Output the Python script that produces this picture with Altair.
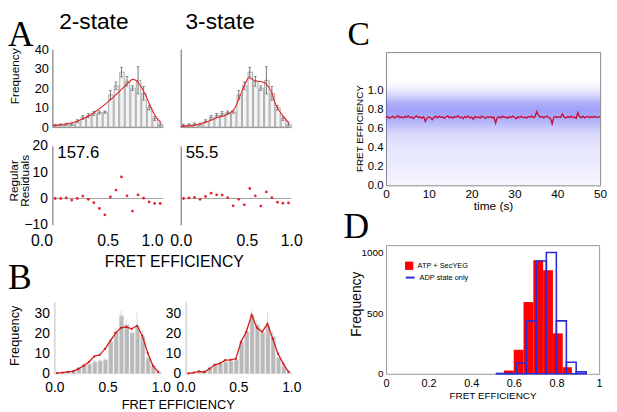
import altair as alt
import pandas as pd

W, H = 609, 404

# ---------------- data ----------------
# FRET efficiency histogram, 20 bins of width 0.05
bin_lo = [0.00, 0.05, 0.10, 0.15, 0.20, 0.25, 0.30, 0.35, 0.40, 0.45,
          0.50, 0.55, 0.60, 0.65, 0.70, 0.75, 0.80, 0.85, 0.90, 0.95]
bin_hi = [0.05, 0.10, 0.15, 0.20, 0.25, 0.30, 0.35, 0.40, 0.45, 0.50,
          0.55, 0.60, 0.65, 0.70, 0.75, 0.80, 0.85, 0.90, 0.95, 1.00]
bin_mid = [0.025, 0.075, 0.125, 0.175, 0.225, 0.275, 0.325, 0.375, 0.425, 0.475,
           0.525, 0.575, 0.625, 0.675, 0.725, 0.775, 0.825, 0.875, 0.925, 0.975]

a_counts = [1.0, 1.2, 1.5, 1.5, 3.0, 5.0, 6.0, 7.0, 7.5, 7.7,
            16.5, 21.2, 28.2, 23.5, 20.0, 24.0, 17.3, 10.0, 4.4, 1.4]
a_err = [0.5, 0.5, 0.6, 0.6, 0.8, 1.0, 1.0, 1.0, 0.8, 0.6,
         2.3, 2.0, 2.5, 2.5, 1.2, 7.0, 3.5, 1.2, 1.0, 0.8]

b_counts = [0.3, 0.5, 1.0, 1.5, 3.0, 4.6, 5.0, 6.0, 6.5, 7.0,
            16.0, 21.0, 29.0, 24.5, 20.5, 24.0, 18.5, 8.0, 4.0, 1.0]
b_err = [0.3, 0.3, 0.4, 0.5, 0.7, 0.8, 0.8, 0.8, 0.8, 0.8,
         2.0, 2.0, 2.5, 2.5, 1.5, 6.5, 3.0, 1.5, 1.0, 0.6]

# A: fitted curves
fit2_x = [0.0, 0.05, 0.1, 0.15, 0.2, 0.25, 0.3, 0.35, 0.4, 0.45, 0.5, 0.55,
          0.6, 0.65, 0.7, 0.725, 0.75, 0.8, 0.85, 0.9, 0.95, 0.98]
fit2_y = [0.8, 1.0, 1.3, 1.8, 2.6, 3.6, 4.9, 6.5, 8.4, 10.5, 12.8, 15.3,
          18.0, 20.8, 23.5, 24.5, 24.2, 21.0, 15.5, 9.0, 4.2, 2.5]
fit3_x = [0.0, 0.13, 0.25, 0.34, 0.43, 0.49, 0.535, 0.565, 0.595, 0.615,
          0.64, 0.67, 0.73, 0.775, 0.82, 0.86, 0.905, 0.965, 0.98]
fit3_y = [0.3, 1.0, 3.0, 5.0, 6.7, 9.8, 15.7, 20.0, 23.6, 25.3,
          24.8, 23.8, 23.3, 22.0, 18.2, 11.5, 7.3, 3.0, 2.2]

# A: regular residuals
res2 = [0.0, 0.0, 0.2, -0.6, 0.0, 0.9, -0.3, -1.6, -3.8, -6.2,
        0.6, 3.2, 8.2, 1.0, -4.8, 1.4, 0.1, -1.3, -1.9, -1.9]
res3 = [0.0, 0.2, 0.4, -0.3, 0.8, 2.0, 1.4, 1.3, 0.3, -2.8,
        -0.3, -2.4, 3.8, 1.0, -2.9, 2.5, 0.3, -1.4, -1.8, -1.7]
chi_values = ["157.6", "55.5"]
model_names = ["2-state", "3-state"]
panel_letters = ["A", "B", "C", "D"]

# B: model curves at bin centres
b2_fit = [0.3, 0.6, 1.0, 1.2, 2.5, 4.0, 6.0, 8.7, 9.5, 12.5,
          16.5, 20.5, 23.0, 23.5, 22.5, 24.0, 19.0, 10.5, 4.0, 1.0]
b3_fit = [0.2, 0.6, 1.2, 0.8, 2.5, 4.5, 5.2, 6.8, 7.0, 7.5,
          16.0, 21.0, 29.5, 23.0, 21.0, 25.0, 17.5, 10.0, 5.0, 1.0]

# C: FRET trace (0.4 s steps) and density profile of the single-photon cloud
trace = [.712, .722, .705, .718, .726, .709, .716, .731, .712, .720,
         .708, .724, .714, .730, .711, .719, .703, .721, .727, .713,
         .717, .706, .722, .672, .708, .719, .711, .690, .715, .724,
         .709, .726, .713, .720, .704, .718, .729, .712, .721, .707,
         .723, .716, .731, .710, .719, .701, .722, .714, .728, .709,
         .718, .695, .724, .712, .720, .706, .727, .715, .703, .721,
         .713, .725, .708, .717, .655, .712, .722, .709, .726, .714,
         .719, .704, .723, .711, .728, .716, .700, .720, .713, .725,
         .710, .718, .706, .723, .715, .729, .712, .720, .775, .738,
         .716, .723, .709, .719, .727, .712, .705, .645, .718, .724,
         .711, .721, .714, .750, .716, .708, .722, .713, .726, .710,
         .719, .705, .765, .721, .712, .727, .709, .718, .724, .711,
         .720, .714, .726, .712, .719, .716]
trace_time = [i * 0.4 for i in range(len(trace))]
haze_mid = [0.025, 0.075, 0.125, 0.175, 0.225, 0.275, 0.325, 0.375, 0.425, 0.475, 0.525,
            0.575, 0.625, 0.675, 0.725, 0.775, 0.825, 0.875, 0.925, 0.975, 1.025, 1.075]
haze_density = [0.06, 0.07, 0.08, 0.09, 0.10, 0.11, 0.12, 0.13, 0.14, 0.16, 0.19,
                0.24, 0.31, 0.38, 0.44, 0.48, 0.46, 0.38, 0.26, 0.15, 0.07, 0.02]
HAZE_TOP = 1.1

# D: histograms
series_names = ["ATP + SecYEG", "ADP state only"]
red_lo = [0.551, 0.597, 0.643, 0.689, 0.735, 0.781, 0.827]
red_hi = [0.597, 0.643, 0.689, 0.735, 0.781, 0.827, 0.870]
red_n = [27, 198, 591, 935, 854, 333, 54]
blue_lo = [0.516, 0.563, 0.610, 0.656, 0.703, 0.750, 0.797, 0.844, 0.890]
blue_hi = [0.563, 0.610, 0.656, 0.703, 0.750, 0.797, 0.844, 0.890, 0.937]
blue_n = [3, 3, 89, 434, 930, 1000, 436, 95, 16]

# ---------------- tables ----------------
histA = pd.DataFrame({"lo": bin_lo, "hi": bin_hi, "mid": bin_mid, "n": a_counts, "e": a_err})
histA["elo"] = histA["n"] - histA["e"]
histA["ehi"] = histA["n"] + histA["e"]
histB = pd.DataFrame({"lo": bin_lo, "hi": bin_hi, "mid": bin_mid, "n": b_counts, "e": b_err})
histB["elo"] = histB["n"] - histB["e"]
histB["ehi"] = histB["n"] + histB["e"]

FONT = "Liberation Sans"
RED = "#e3262b"


def lin(domain, rng):
    return alt.Scale(domain=domain, range=rng, nice=False)


# ---------------- panel A (top: histograms + fits) ----------------
def a_top(xr, fx, fy, yaxis):
    xs = lin([0, 1], xr)
    ys = lin([0, 40], [118, 39])
    ax = alt.Axis(orient="bottom", offset=118 - H, labels=False, ticks=False,
                  domainColor="#888", title=None)
    bars = alt.Chart(histA).mark_bar(fill="#f4f4f4", stroke="#9a9a9a", strokeWidth=0.8,
                                     binSpacing=1).encode(
        x=alt.X("lo:Q", bin="binned", scale=xs, axis=ax), x2="hi:Q",
        y=alt.Y("n:Q", scale=ys, axis=yaxis))
    err = alt.Chart(histA).mark_rule(color="#555", strokeWidth=0.8).encode(
        x=alt.X("mid:Q", scale=xs, axis=ax), y=alt.Y("elo:Q", scale=ys, axis=yaxis), y2="ehi:Q")
    cap1 = alt.Chart(histA).mark_tick(orient="horizontal", size=3, thickness=0.8, color="#555").encode(
        x=alt.X("mid:Q", scale=xs, axis=ax), y=alt.Y("ehi:Q", scale=ys, axis=yaxis))
    cap2 = alt.Chart(histA).mark_tick(orient="horizontal", size=3, thickness=0.8, color="#555").encode(
        x=alt.X("mid:Q", scale=xs, axis=ax), y=alt.Y("elo:Q", scale=ys, axis=yaxis))
    fit = alt.Chart(pd.DataFrame({"x": fx, "y": fy})).mark_line(
        color=RED, strokeWidth=1.1, interpolate="monotone").encode(
        x=alt.X("x:Q", scale=xs, axis=ax), y=alt.Y("y:Q", scale=ys, axis=yaxis))
    return alt.layer(bars, err, cap1, cap2, fit)


ay_A1 = alt.Axis(orient="left", offset=-45, values=[0, 10, 20, 30, 40], labelFontSize=13,
                 labelPadding=4, ticks=False, domainColor="#666", title="Frequency",
                 titleFontSize=12, titleFontWeight="normal", titleX=-31, titleY=66,
                 titleBaseline="bottom", titleAlign="center", titleAngle=270)
ay_A2 = alt.Axis(orient="left", offset=-175, labels=False, ticks=False, domainColor="#666",
                 title=None)
pA1 = a_top([45, 157], fit2_x, fit2_y, ay_A1)
pA2 = a_top([175, 287], fit3_x, fit3_y, ay_A2)


# ---------------- panel A (bottom: residuals) ----------------
def a_res(xr, res, yaxis, xaxis):
    xs = lin([0, 1], xr)
    ys = lin([-10, 20], [217, 137])
    df = pd.DataFrame({"mid": bin_mid, "r": res})
    zero = alt.Chart(pd.DataFrame({"k": [0]})).mark_rule(color="#8a8a8a", strokeWidth=0.8).encode(
        x=alt.XDatum(0, scale=xs, axis=xaxis), x2=alt.datum(1),
        y=alt.YDatum(0, scale=ys, axis=yaxis))
    pts = alt.Chart(df).mark_circle(size=8, color=RED, opacity=1).encode(
        x=alt.X("mid:Q", scale=xs, axis=xaxis), y=alt.Y("r:Q", scale=ys, axis=yaxis))
    return alt.layer(zero, pts)


ax_R1 = alt.Axis(orient="bottom", offset=217 - H, values=[0, 0.5, 1], format=".1f",
                 labelFontSize=16, labelPadding=8, labelFlush=False, labelOverlap=False,
                 labelAlign={"condition": {"test": "datum.value == 0 || datum.value == 1",
                                           "value": "right"}, "value": "center"},
                 ticks=False, domain=False, title="FRET EFFICIENCY", titleFontSize=16,
                 titleFontWeight="normal", titleX=168, titleY=37, titleBaseline="middle",
                 titleAlign="center")
ax_R2 = alt.Axis(orient="bottom", offset=217 - H, values=[0, 0.5, 1], format=".1f",
                 labelFontSize=16, labelPadding=8, labelFlush=False, labelOverlap=False,
                 labelAlign={"condition": {"test": "datum.value == 0.5", "value": "left"},
                             "value": "center"},
                 ticks=False, domain=False, title=None)
ay_R1 = alt.Axis(orient="left", offset=-45, values=[-10, 0, 10, 20], labelFontSize=14,
                 labelPadding=5, ticks=False, domainColor="#666", title=["Regular", "Residuals"],
                 titleFontSize=12, titleFontWeight="normal", titleLineHeight=11,
                 titleX=-32, titleY=172, titleBaseline="bottom", titleAlign="center",
                 titleAngle=270)
ay_R2 = alt.Axis(orient="left", offset=-175, labels=False, ticks=False, domainColor="#666",
                 title=None)
pR1 = a_res([45, 157], res2, ay_R1, ax_R1)
pR2 = a_res([175, 287], res3, ay_R2, ax_R2)


# ---------------- panel B ----------------
def b_panel(xr, fit, yaxis, xaxis):
    xs = lin([0, 1], xr)
    ys = lin([0, 36], [368, 295])
    bars = alt.Chart(histB).mark_bar(fill="#b9b9b9", stroke="#e0e0e0", strokeWidth=0.5,
                                     binSpacing=1).encode(
        x=alt.X("lo:Q", bin="binned", scale=xs, axis=xaxis), x2="hi:Q",
        y=alt.Y("n:Q", scale=ys, axis=yaxis))
    err = alt.Chart(histB).mark_rule(color="#cdcdcd", strokeWidth=0.8).encode(
        x=alt.X("mid:Q", scale=xs, axis=xaxis), y=alt.Y("elo:Q", scale=ys, axis=yaxis), y2="ehi:Q")
    line = alt.Chart(pd.DataFrame({"x": bin_mid, "y": fit})).mark_line(
        color="#d41c1c", strokeWidth=1.3, point=alt.OverlayMarkDef(size=5, color="#d41c1c")).encode(
        x=alt.X("x:Q", scale=xs, axis=xaxis), y=alt.Y("y:Q", scale=ys, axis=yaxis))
    return alt.layer(bars, err, line)


def b_xaxis(title):
    kw = dict(orient="bottom", offset=368 - H, values=[0, 0.5, 1], format=".1f",
              labelFontSize=14, labelPadding=7, labelFlush=False, labelOverlap=False,
              ticks=False, domain=False)
    if title:
        kw.update(title=title, titleFontSize=13, titleFontWeight="normal", titleX=172,
                  titleY=35, titleBaseline="alphabetic", titleAlign="center")
    else:
        kw.update(title=None)
    return alt.Axis(**kw)


ay_B1 = alt.Axis(orient="left", offset=-47, values=[0, 10, 20, 30], labelFontSize=14,
                 labelPadding=5, ticks=False, domainColor="#bbb", title="Frequency",
                 titleFontSize=13, titleFontWeight="normal", titleX=-33, titleY=329,
                 titleBaseline="bottom", titleAlign="center", titleAngle=270)
ay_B2 = alt.Axis(orient="left", offset=-180, values=[0, 10, 20, 30], labelFontSize=14,
                 labelPadding=5, ticks=False, domainColor="#bbb", title=None)
pB1 = b_panel([47, 155], b2_fit, ay_B1, b_xaxis("FRET EFFICIENCY"))
pB2 = b_panel([180, 287], b3_fit, ay_B2, b_xaxis(None))

# ---------------- panel C ----------------
xs_C = lin([0, 50], [383, 600])
ys_C = lin([0, 1.4], [177, 42])
ax_C = alt.Axis(orient="bottom", offset=177 - H, values=[0, 10, 20, 30, 40, 50],
                labelFontSize=12, labelPadding=3, labelFlush=False, ticks=False,
                domainColor="#888", title="time (s)", titleFontSize=12,
                titleFontWeight="normal", titlePadding=1)
ay_C = alt.Axis(orient="left", offset=-383, values=[0, 0.2, 0.4, 0.6, 0.8, 1.0, 1.2],
                format=".1f", labelExpr="datum.value > 1.1 ? '' : datum.label",
                labelFontSize=11.5, labelPadding=3, ticks=False, domainColor="#888",
                title="FRET EFFICIENCY", titleFontSize=10, titleFontWeight="normal",
                titleX=-22, titleY=119, titleBaseline="bottom", titleAlign="center",
                titleAngle=270)
trace_df = pd.DataFrame({"t": trace_time, "f": trace})
haze_grad = alt.Gradient(
    gradient="linear", x1=0, x2=0, y1=1, y2=0,
    stops=[alt.GradientStop(offset=m / HAZE_TOP, color=f"rgba(58,58,240,{d})")
           for m, d in zip(haze_mid, haze_density)])
haze = alt.Chart(pd.DataFrame({"k": [0]})).mark_rect(color=haze_grad).encode(
    x=alt.XDatum(0, scale=xs_C, axis=ax_C), x2=alt.datum(50),
    y=alt.YDatum(0, scale=ys_C, axis=ay_C), y2=alt.datum(HAZE_TOP))
tline = alt.Chart(trace_df).mark_line(color="#c8103c", strokeWidth=1.4).encode(
    x=alt.X("t:Q", scale=xs_C, axis=ax_C), y=alt.Y("f:Q", scale=ys_C, axis=ay_C))
pC = alt.layer(haze, tline)
frameC = alt.Chart(trace_df).mark_line(opacity=0).encode(
    x=alt.X("t:Q", scale=lin([0, 50], [383, 600]),
            axis=alt.Axis(orient="top", offset=-42, labels=False, ticks=False,
                          domainColor="#888", title=None)),
    y=alt.Y("f:Q", scale=lin([0, 1.4], [177, 42]),
            axis=alt.Axis(orient="right", offset=600 - W, labels=False, ticks=False,
                          domainColor="#888", title=None)))

# ---------------- panel D ----------------
xs_D = lin([0, 1], [383, 599])
ys_D = lin([0, 1060], [368, 237.6])
ax_D = alt.Axis(orient="bottom", offset=368 - H, values=[0, 0.2, 0.4, 0.6, 0.8, 1],
                format="~g", labelFontSize=11, labelPadding=4, labelFlush=False, ticks=False,
                domainColor="#999", title="FRET EFFICIENCY", titleFontSize=10,
                titleFontWeight="normal", titleY=22, titleBaseline="middle")
ay_D = alt.Axis(orient="left", offset=-383, values=[0, 500, 1000], format="d",
                labelFontSize=10, labelPadding=3, ticks=False, domainColor="#999",
                title="Frequency", titleFontSize=14, titleFontWeight="normal", titleX=-23,
                titleY=297, titleBaseline="bottom", titleAlign="center", titleAngle=270)
fill_scale = alt.Scale(domain=[series_names[0]], range=["#ff0000"])
stroke_scale = alt.Scale(domain=[series_names[1]], range=["#2b2bd8"])
leg_red = alt.Legend(orient="none", legendX=402, legendY=254, title=None, labelFontSize=7.5,
                     labelFont=FONT, symbolType="square", symbolSize=70, labelOffset=4,
                     padding=0, symbolStrokeWidth=0)
leg_blue = alt.Legend(orient="none", legendX=402, legendY=265, title=None, labelFontSize=7.5,
                      labelFont=FONT, symbolType="stroke", symbolSize=80, labelOffset=4,
                      padding=0, symbolStrokeWidth=2)
red_df = pd.DataFrame({"lo": red_lo, "hi": red_hi, "n": red_n, "s": series_names[0]})
blue_df = pd.DataFrame({"lo": blue_lo, "hi": blue_hi, "n": blue_n, "s": series_names[1]})
red = alt.Chart(red_df).mark_bar(binSpacing=0).encode(
    x=alt.X("lo:Q", bin="binned", scale=xs_D, axis=ax_D), x2="hi:Q",
    y=alt.Y("n:Q", scale=ys_D, axis=ay_D),
    fill=alt.Fill("s:N", scale=fill_scale, legend=leg_red))
blue = alt.Chart(blue_df).mark_bar(filled=False, strokeWidth=1.6, binSpacing=0).encode(
    x=alt.X("lo:Q", bin="binned", scale=xs_D, axis=ax_D), x2="hi:Q",
    y=alt.Y("n:Q", scale=ys_D, axis=ay_D),
    stroke=alt.Stroke("s:N", scale=stroke_scale, legend=leg_blue))
pD = alt.layer(red, blue)
frameD = alt.Chart(blue_df).mark_point(opacity=0).encode(
    x=alt.X("lo:Q", scale=lin([0, 1], [383, 599]),
            axis=alt.Axis(orient="top", offset=-237.6, labels=False, ticks=False,
                          domainColor="#999", title=None)),
    y=alt.Y("n:Q", scale=lin([0, 1060], [368, 237.6]),
            axis=alt.Axis(orient="right", offset=599 - W, labels=False, ticks=False,
                          domainColor="#999", title=None)))


# ---------------- annotations ----------------
def note(txt, x, y, size, font=FONT, align="left"):
    return alt.Chart(pd.DataFrame({"t": [txt]})).mark_text(
        align=align, baseline="alphabetic", fontSize=size, font=font, color="black").encode(
        x=alt.value(x), y=alt.value(y), text="t:N")


notes = [
    note(model_names[0], 87, 19, 23, align="center"),
    note(model_names[1], 215, 19, 23, align="center"),
    note(panel_letters[0], 0, 36, 36, font="Liberation Serif"),
    note(panel_letters[1], 0, 282, 36, font="Liberation Serif"),
    note(panel_letters[2], 344, 35, 34, font="Liberation Serif"),
    note(panel_letters[3], 340, 230, 36, font="Liberation Serif"),
    note(chi_values[0], 50, 149, 17),
    note(chi_values[1], 180, 149, 17),
]

chart = alt.layer(pA1, pA2, pR1, pR2, pB1, pB2, pC, frameC, pD, frameD, *notes).resolve_scale(
    x="independent", y="independent").resolve_axis(
    x="independent", y="independent").properties(
    width=W, height=H, padding=0, autosize=alt.AutoSizeParams(type="none")).configure_view(
    strokeWidth=0).configure_axis(
    grid=False, labelFont=FONT, titleFont=FONT, labelColor="black", titleColor="black")

chart.save("out.html", embed_options={"renderer": "svg", "actions": False})
